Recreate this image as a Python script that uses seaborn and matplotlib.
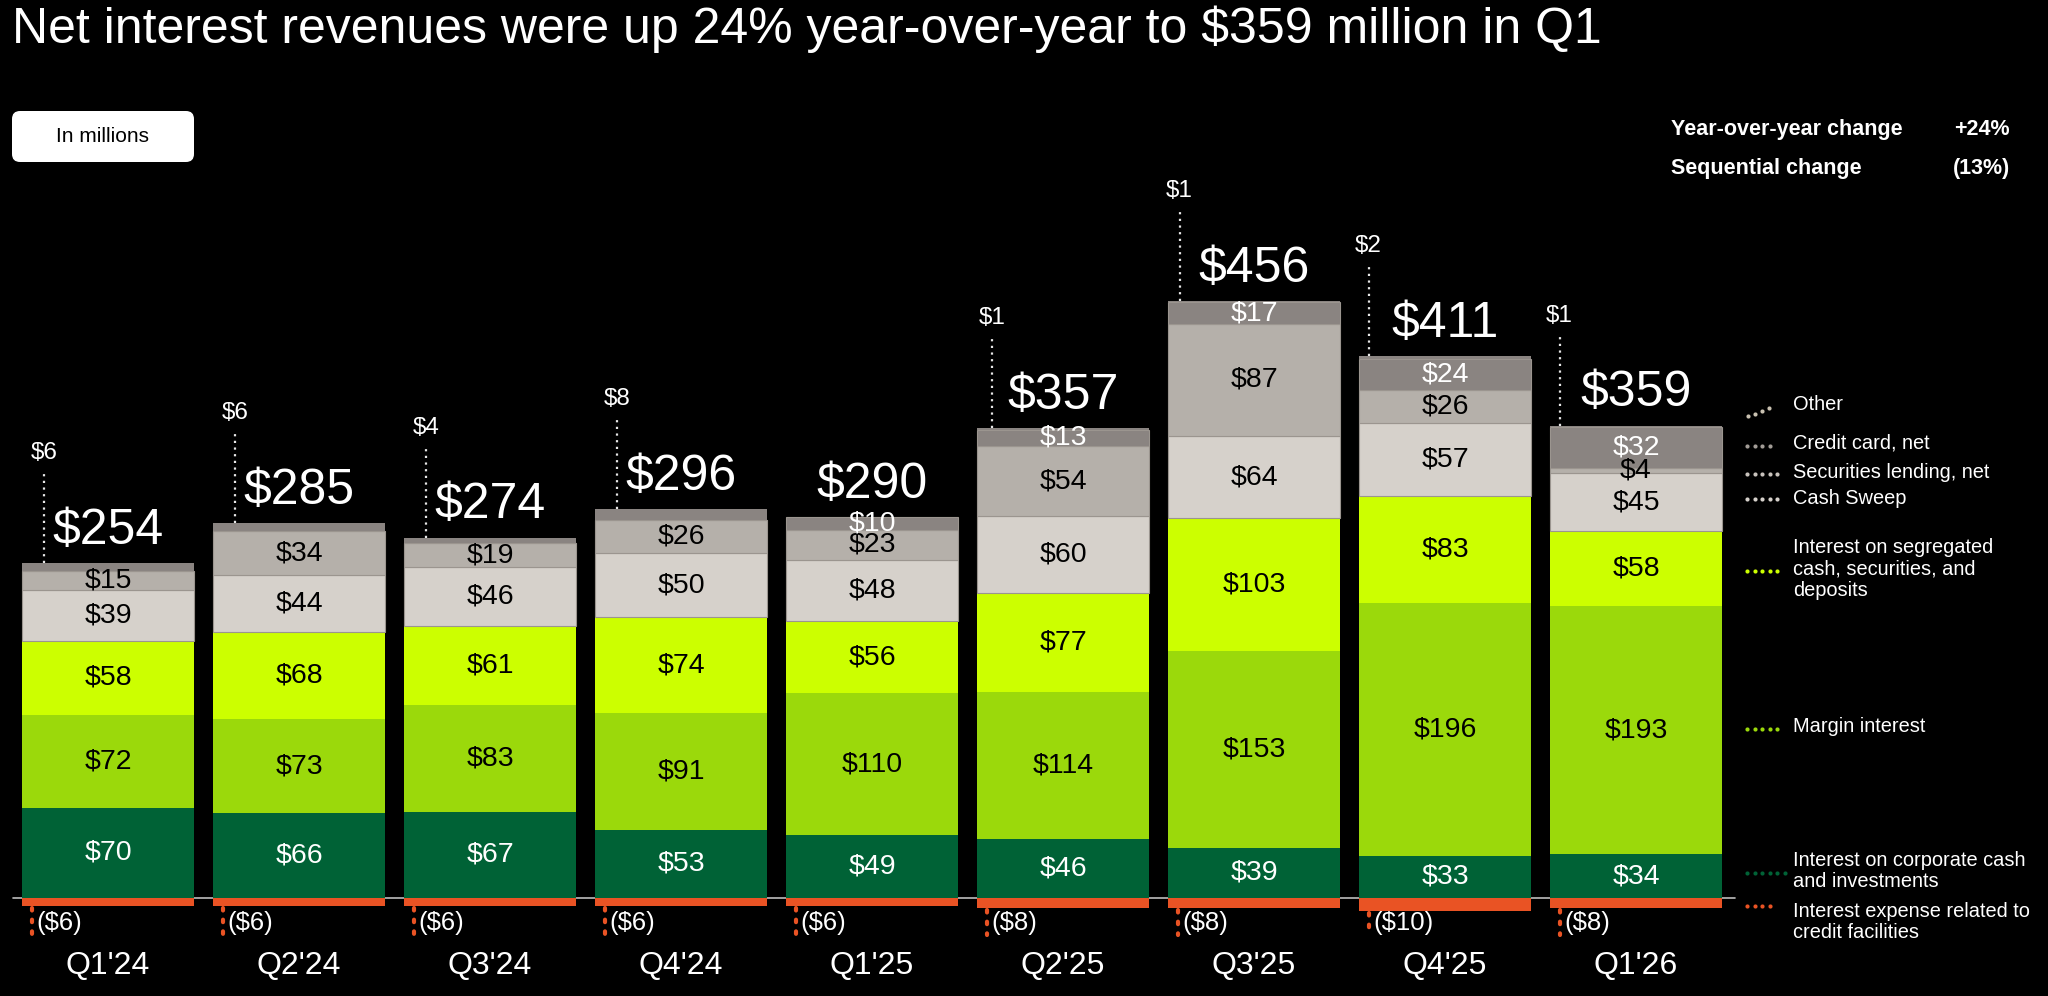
import numpy as np
import pandas as pd
import matplotlib
matplotlib.use("Agg")
import matplotlib.pyplot as plt
import seaborn as sns
from matplotlib.patches import FancyBboxPatch
from matplotlib.lines import Line2D
from matplotlib.transforms import Affine2D

# ---- data (in millions) ----
quarters = ["Q1'24", "Q2'24", "Q3'24", "Q4'24", "Q1'25", "Q2'25", "Q3'25", "Q4'25", "Q1'26"]
corporate_cash = [70, 66, 67, 53, 49, 46, 39, 33, 34]
margin_interest = [72, 73, 83, 91, 110, 114, 153, 196, 193]
segregated = [58, 68, 61, 74, 56, 77, 103, 83, 58]
cash_sweep = [39, 44, 46, 50, 48, 60, 64, 57, 45]
securities_lending = [15, 34, 19, 26, 23, 54, 87, 26, 4]
credit_card = [0, 0, 0, 0, 10, 13, 17, 24, 32]
other = [6, 6, 4, 8, 0, 1, 1, 2, 1]
interest_expense = [-6, -6, -6, -6, -6, -8, -8, -10, -8]
totals = [254, 285, 274, 296, 290, 357, 456, 411, 359]

df = pd.DataFrame({
    "quarter": quarters,
    "corporate_cash": corporate_cash,
    "margin_interest": margin_interest,
    "segregated": segregated,
    "cash_sweep": cash_sweep,
    "securities_lending": securities_lending,
    "credit_card": credit_card,
    "other": other,
    "interest_expense": interest_expense,
})

# stacking order bottom -> top: fill, label colour, edge width
layers = [
    ("corporate_cash", "#006236", "white", 0),
    ("margin_interest", "#9bd90b", "black", 0),
    ("segregated", "#ccff00", "black", 0),
    ("cash_sweep", "#d6d1cb", "black", 0.8),
    ("securities_lending", "#b5b0aa", "black", 0.8),
    ("credit_card", "#8a8481", "white", 0.8),
    ("other", "#8a8481", None, 0),
]

W, H = 2048, 996
PX = 1.287          # pixels per $1M
BASE = 898          # pixel row of the zero line
STEP = 191          # pixels between bar centres
X0 = 108            # pixel column of first bar centre

sns.set_style("dark")
plt.rcParams["font.family"] = ["Liberation Sans", "DejaVu Sans"]

fig = plt.figure(figsize=(W / 100, H / 100), dpi=100, facecolor="black")
ax = fig.add_axes([0, 0, 1, 1])
ax.set_facecolor("black")

# pixel transform (origin top-left)
pix = Affine2D().scale(1 / W, -1 / H).translate(0, 1) + fig.transFigure

bottom = np.zeros(len(quarters))
for col, color, _, lw in layers:
    sns.barplot(data=df, x="quarter", y=col, order=quarters, color=color,
                saturation=1, width=0.9, bottom=bottom.copy(), errorbar=None,
                linewidth=lw, edgecolor="#9b958f", ax=ax)
    bottom += df[col].to_numpy()
tops = bottom.copy()

sns.barplot(data=df, x="quarter", y="interest_expense", order=quarters,
            color="#e95324", saturation=1, width=0.9, errorbar=None,
            linewidth=0, ax=ax)

ax.set_xlim(-X0 / STEP, (W - X0) / STEP)
ax.set_ylim(-(H - BASE) / PX, BASE / PX)
ax.set_axis_off()

# zero line
ax.plot([-0.5, 8.52], [0, 0], color="#bdbdbd", lw=1.2, zorder=0.5)

# segment labels
bottom = np.zeros(len(quarters))
for col, color, tcolor, _ in layers:
    vals = df[col].to_numpy()
    if tcolor is not None:
        for i, v in enumerate(vals):
            if v > 0:
                ax.text(i, bottom[i] + v / 2, f"${v}", ha="center", va="center",
                        fontsize=20.5, color=tcolor)
    bottom += vals

other_dx = [0.115] * 4 + [0.06, 0.08, 0.06, 0.05, 0.05]
for i, q in enumerate(quarters):
    top = tops[i]
    # total
    ax.text(i, top + 15, f"${totals[i]}", ha="center", va="baseline",
            fontsize=36, color="white")
    # other callout
    if other[i] > 0:
        xo = i - 0.45 + other_dx[i]
        ax.plot([xo, xo], [top, top + 91 / PX], color="#e6e6e6", lw=1.6,
                ls=(0, (1, 2)))
        ax.text(xo, top + 110 / PX, f"${other[i]}", ha="center", va="center",
                fontsize=17.5, color="white")
    # interest expense callout
    neg = interest_expense[i]
    xn = i - 0.45 + 0.05
    ax.plot([xn, xn], [neg - 1.5, -(935 - BASE) / PX], color="#e95324", lw=3,
            ls=(0, (0.6, 2.2)), dash_capstyle="round")
    ax.text(xn + 0.025, -(923 - BASE) / PX, f"(${-neg})", ha="left", va="center",
            fontsize=18.5, color="white")
    # quarter label
    ax.text(i, -(966 - BASE) / PX, q, ha="center", va="center", fontsize=23,
            color="white")

# title
fig.text(12, 43, "Net interest revenues were up 24% year-over-year to $359 million in Q1",
         transform=pix, fontsize=36, color="white", va="baseline", ha="left")

# "In millions" box
box = FancyBboxPatch((12, 111), 182, 51, boxstyle="round,pad=0,rounding_size=8",
                     transform=pix, facecolor="white", edgecolor="none")
fig.add_artist(box)
fig.text(103, 137, "In millions", transform=pix, fontsize=15, color="black",
         ha="center", va="center")

# change summary
fig.text(1671, 135, "Year-over-year change", transform=pix, fontsize=15.5,
         weight="bold", color="white", va="baseline")
fig.text(2010, 135, "+24%", transform=pix, fontsize=15.5, weight="bold",
         color="white", va="baseline", ha="right")
fig.text(1671, 174, "Sequential change", transform=pix, fontsize=15.5,
         weight="bold", color="white", va="baseline")
fig.text(2010, 174, "(13%)", transform=pix, fontsize=15.5, weight="bold",
         color="white", va="baseline", ha="right")

# legend (dotted markers + labels)
legend_items = [
    ("Other", "#c9c1b1", 405, [(1748, 416), (1755, 414), (1762, 411), (1769, 408)]),
    ("Credit card, net", "#a29c96", 443, 4),
    ("Securities lending, net", "#c8c2bc", 473, 5),
    ("Cash Sweep", "#d6d1cb", 498, 5),
    ("Interest on segregated\ncash, securities, and\ndeposits", "#ccff00", 569, 5),
    ("Margin interest", "#9bd90b", 726, 5),
    ("Interest on corporate cash\nand investments", "#006236", 871, 6),
    ("Interest expense related to\ncredit facilities", "#e95324", 922, 4),
]
dot_rows = [None, 446, 474, 499, 571, 729, 873, 906]
for (label, color, ty, dots), yy in zip(legend_items, dot_rows):
    if isinstance(dots, list):
        xs = [d[0] for d in dots]
        ys = [d[1] for d in dots]
    else:
        xs = list(1747 + 7.5 * np.arange(dots))
        ys = [yy] * dots
    fig.add_artist(Line2D(xs, ys, transform=pix, ls="none", marker="o",
                          markersize=3, color=color, markeredgewidth=0))
    fig.text(1793, ty, label, transform=pix, fontsize=14.4, color="white",
             ha="left", va="center", linespacing=1.15)

fig.savefig("out.png", dpi=100, facecolor="black")
